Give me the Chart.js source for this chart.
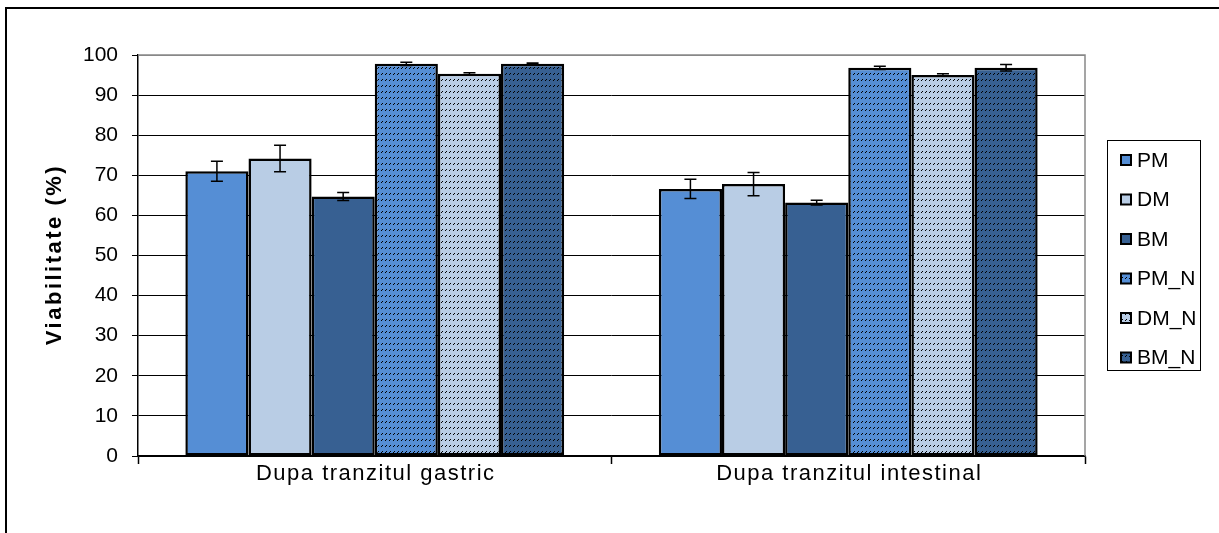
<!DOCTYPE html>
<html lang="ro">
<head>
    <meta charset="UTF-8">
    <title>Viabilitate</title>
    <style>
        body {
            margin: 0;
            background: #ffffff;
        }

        .chart-box {
            position: relative;
            width: 1219px;
            height: 533px;
        }
    </style>
</head>
<body>
    <div class="chart-box">
        <canvas id="viabChart"></canvas>
    </div>

    <script src="https://cdn.jsdelivr.net/npm/chart.js"></script>
    <script>
        // Date
        const categories = ["Dupa tranzitul gastric", "Dupa tranzitul intestinal"];
        const seriesNames = ["PM", "DM", "BM", "PM_N", "DM_N", "BM_N"];

        const pmValues = [71.0, 66.6];
        const dmValues = [74.2, 67.8];
        const bmValues = [64.7, 63.2];
        const pmNValues = [97.8, 96.8];
        const dmNValues = [95.3, 95.0];
        const bmNValues = [97.8, 96.8];

        const pmErr = [2.5, 2.4];
        const dmErr = [3.3, 2.9];
        const bmErr = [1.0, 0.6];
        const pmNErr = [0.4, 0.4];
        const dmNErr = [0.3, 0.3];
        const bmNErr = [0.2, 0.8];

        const yTicks = [0, 10, 20, 30, 40, 50, 60, 70, 80, 90, 100];
        const yTitle = 'Viabilitate (%)';

        const FONT = "Arial, 'Liberation Sans', sans-serif";

        // Model hasurat (ca in Excel)
        function makePattern(color) {
            const c = document.createElement('canvas');
            c.width = 8;
            c.height = 6;
            const g = c.getContext('2d');
            g.fillStyle = color;
            g.fillRect(0, 0, 8, 6);
            g.fillStyle = '#000000';
            g.fillRect(2, 1, 1, 1); g.fillRect(1, 2, 1, 1);
            g.fillRect(6, 1, 1, 1); g.fillRect(5, 2, 1, 1);
            return g.createPattern(c, 'repeat');
        }

        const colPM = '#558ed5';
        const colDM = '#b9cde5';
        const colBM = '#376092';

        const datasets = [
            { label: seriesNames[0], data: pmValues, err: pmErr, backgroundColor: colPM },
            { label: seriesNames[1], data: dmValues, err: dmErr, backgroundColor: colDM },
            { label: seriesNames[2], data: bmValues, err: bmErr, backgroundColor: colBM },
            { label: seriesNames[3], data: pmNValues, err: pmNErr, backgroundColor: makePattern(colPM) },
            { label: seriesNames[4], data: dmNValues, err: dmNErr, backgroundColor: makePattern(colDM) },
            { label: seriesNames[5], data: bmNValues, err: bmNErr, backgroundColor: makePattern(colBM) }
        ].map(ds => Object.assign(ds, {
            borderColor: '#000000',
            borderWidth: 2.5,
            borderSkipped: false,
            barPercentage: 1.0,
            categoryPercentage: 0.8
        }));

        // Bare de eroare
        const errorBars = {
            id: 'errorBars',
            afterDatasetsDraw(chart) {
                const ctx = chart.ctx;
                const y = chart.scales.y;
                ctx.save();
                ctx.strokeStyle = '#000000';
                ctx.lineWidth = 1.5;
                chart.data.datasets.forEach((ds, i) => {
                    const meta = chart.getDatasetMeta(i);
                    meta.data.forEach((bar, j) => {
                        const v = ds.data[j];
                        const e = ds.err[j];
                        const yTop = y.getPixelForValue(v + e);
                        const yBot = y.getPixelForValue(v - e);
                        ctx.beginPath();
                        ctx.moveTo(bar.x, yTop);
                        ctx.lineTo(bar.x, yBot);
                        ctx.moveTo(bar.x - 6, yTop);
                        ctx.lineTo(bar.x + 6, yTop);
                        ctx.moveTo(bar.x - 6, yBot);
                        ctx.lineTo(bar.x + 6, yBot);
                        ctx.stroke();
                    });
                });
                ctx.restore();
            }
        };

        // Cadru, margini, etichete si legenda
        const frameAndLegend = {
            id: 'frameAndLegend',
            beforeDatasetsDraw(chart) {
                const ctx = chart.ctx;
                const a = chart.chartArea;
                ctx.save();
                ctx.strokeStyle = '#888888';
                ctx.lineWidth = 1.5;
                ctx.beginPath();
                ctx.moveTo(a.left, a.top);
                ctx.lineTo(a.right, a.top);
                ctx.lineTo(a.right, a.bottom);
                ctx.stroke();
                ctx.restore();
            },
            afterDraw(chart) {
                const ctx = chart.ctx;
                const a = chart.chartArea;
                const x = chart.scales.x;
                ctx.save();
                // cadru exterior
                ctx.strokeStyle = '#000000';
                ctx.lineWidth = 2;
                ctx.beginPath();
                ctx.moveTo(6, 533);
                ctx.lineTo(6, 8);
                ctx.lineTo(1219, 8);
                ctx.stroke();

                // etichete categorii
                ctx.fillStyle = '#000000';
                ctx.font = '22px ' + FONT;
                ctx.textAlign = 'center';
                ctx.textBaseline = 'middle';
                ctx.letterSpacing = '1.5px';
                categories.forEach((c, i) => {
                    ctx.fillText(c, x.getPixelForValue(i) + 1, a.bottom + 18);
                });

                // titlu axa y
                ctx.save();
                ctx.translate(55, (a.top + a.bottom) / 2);
                ctx.rotate(-Math.PI / 2);
                ctx.font = 'bold 22px ' + FONT;
                ctx.letterSpacing = '2.5px';
                ctx.fillText(yTitle, 1, 0);
                ctx.restore();

                // legenda
                ctx.letterSpacing = '0px';
                const lx = 1107, ly = 140, lw = 93, lh = 230;
                ctx.lineWidth = 1;
                ctx.strokeStyle = '#000000';
                ctx.strokeRect(lx + 0.5, ly + 0.5, lw, lh);
                ctx.font = '21px ' + FONT;
                ctx.textAlign = 'left';
                chart.data.datasets.forEach((ds, i) => {
                    const cy = 160 + i * 39.5;
                    ctx.fillStyle = ds.backgroundColor;
                    ctx.fillRect(lx + 14, cy - 5, 10, 10);
                    ctx.strokeStyle = '#000000';
                    ctx.lineWidth = 2;
                    ctx.strokeRect(lx + 14, cy - 5, 10, 10);
                    ctx.fillStyle = '#000000';
                    ctx.fillText(ds.label, lx + 30, cy + 1);
                });
                ctx.restore();
            }
        };

        const ctx = document.getElementById('viabChart').getContext('2d');
        new Chart(ctx, {
            type: 'bar',
            data: {
                labels: categories,
                datasets: datasets
            },
            options: {
                responsive: true,
                maintainAspectRatio: false,
                animation: false,
                layout: {
                    padding: { left: 35, right: 134, top: 55, bottom: 37 }
                },
                scales: {
                    x: {
                        afterFit(scale) { scale.height = 40; },
                        grid: {
                            display: true,
                            drawOnChartArea: false,
                            drawTicks: true,
                            tickLength: 8,
                            tickWidth: 1.5,
                            tickColor: '#000000',
                            offset: true
                        },
                        border: { display: true, color: '#000000', width: 1.5 },
                        ticks: { display: false }
                    },
                    y: {
                        min: 0,
                        max: 100,
                        afterFit(scale) { scale.width = 103; },
                        afterBuildTicks(scale) {
                            scale.ticks = yTicks.map(v => ({ value: v }));
                        },
                        grid: {
                            color: c => (c.tick && c.tick.value === 100) ? '#888888' : '#000000',
                            lineWidth: 1,
                            drawTicks: true,
                            tickLength: 6,
                            tickColor: '#000000'
                        },
                        border: { display: true, color: '#000000', width: 1.5 },
                        ticks: {
                            color: '#000000',
                            font: { family: FONT, size: 21 },
                            padding: 14
                        }
                    }
                },
                plugins: {
                    legend: { display: false },
                    tooltip: { enabled: false }
                }
            },
            plugins: [errorBars, frameAndLegend]
        });
    </script>
</body>
</html>
